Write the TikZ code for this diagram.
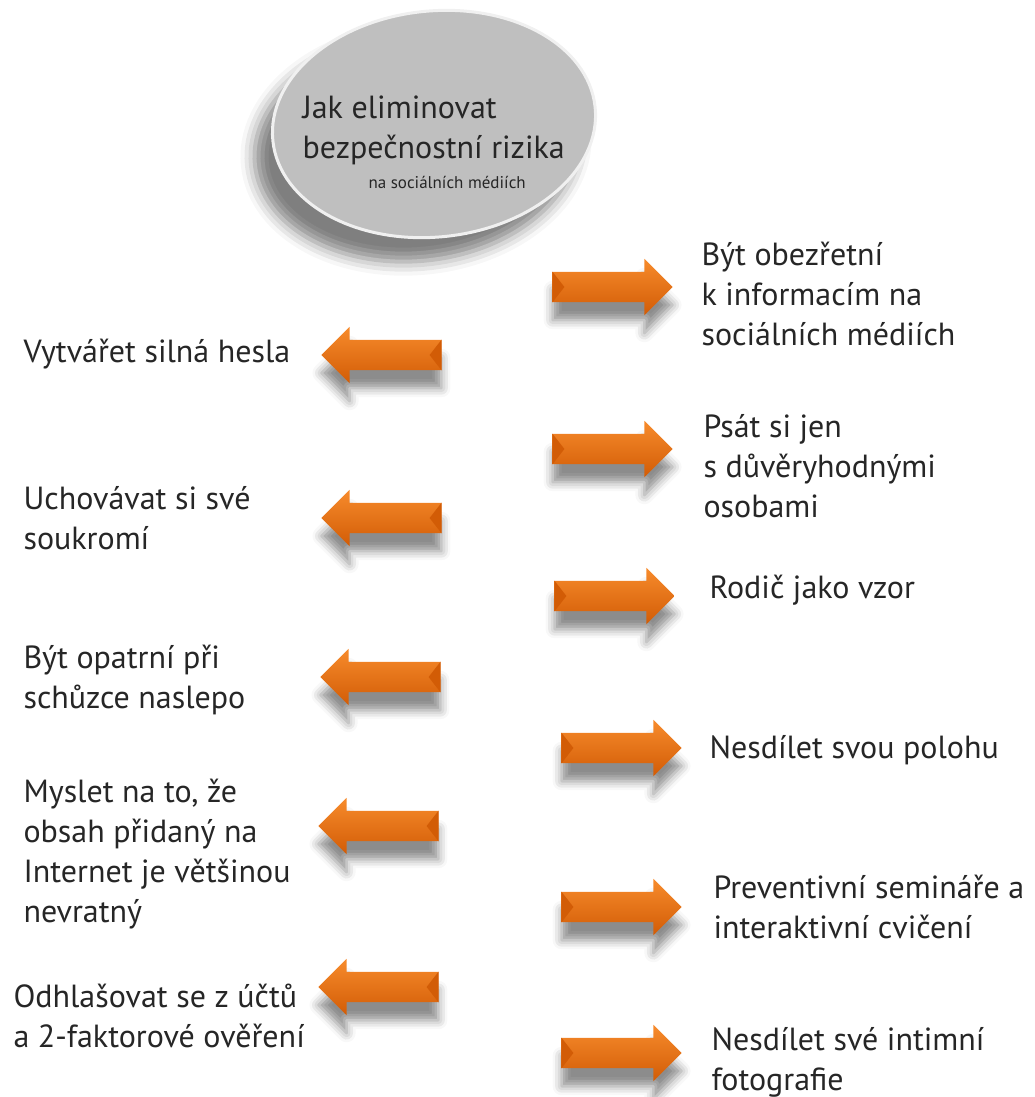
\documentclass[tikz,border=0pt]{standalone}
\usepackage{fontspec}
\setmainfont{PT Sans}
\usetikzlibrary{shapes.arrows,shapes.geometric,shadows.blur,calc}
\definecolor{arrowmid}{HTML}{F07510}
\definecolor{arrowlight}{HTML}{F78B2C}
\definecolor{arrowdark}{HTML}{D25C06}
\definecolor{textgray}{HTML}{262626}
\tikzset{
    orangearrow/.style={single arrow, single arrow head extend=13pt,
        single arrow tip angle=90, inner xsep=0pt, inner ysep=15pt,
        minimum height=120pt, top color=arrowlight, middle color=arrowmid,
        bottom color=arrowdark,
        blur shadow={shadow xshift=0pt, shadow yshift=-18pt,
            shadow opacity=45, shadow blur radius=9pt}},
    goleft/.style={orangearrow, shape border rotate=180},
    goright/.style={orangearrow},
    item/.style={anchor=west, align=left, text=textgray,
        font=\fontsize{32}{40}\selectfont},
}
\begin{document}
\begin{tikzpicture}[x=1pt, y=-1pt]
    \useasboundingbox (0,0) rectangle (1035,1097);
    %   Grey bubble with the title
    \node[ellipse, rotate=6, minimum width=324pt, minimum height=226pt,
        fill=gray!50, draw=gray!12, line width=3pt,
        blur shadow={shadow xshift=-18pt, shadow yshift=-24pt,
            shadow opacity=50, shadow blur radius=14pt}] (bubble) at (434,124) {};
    \node[item, anchor=base west] (title1) at (299,118) {Jak eliminovat};
    \node[item, anchor=base west] (title2) at (299,158) {bezpečnostní rizika};
    \node[item, anchor=base west, font=\fontsize{17}{20}\selectfont] (title3)
        at (365,188) {na sociálních médiích};
    %   Left column
    \node[goleft] (arrHesla) at (389,355) {};
    \node[item] (txtHesla) at (20,354) {Vytvářet silná hesla};
    \node[goleft] (arrSoukromi) at (389,518) {};
    \node[item] (txtSoukromi) at (20,518) {Uchovávat si své\\soukromí};
    \node[goleft] (arrSchuzka) at (388,677) {};
    \node[item] (txtSchuzka) at (20,680) {Být opatrní při\\schůzce naslepo};
    \node[goleft] (arrObsah) at (386,826) {};
    \node[item] (txtObsah) at (20,854) {Myslet na to, že\\obsah přidaný na\\Internet je většinou\\nevratný};
    \node[goleft] (arrUcty) at (386,987) {};
    \node[item] (txtUcty) at (10,1016) {Odhlašovat se z účtů\\a 2-faktorové ověření};
    %   Right column
    \node[goright] (arrMedia) at (605,287) {};
    \node[item] (txtMedia) at (698,294) {Být obezřetní\\k informacím na\\sociálních médiích};
    \node[goright] (arrOsoby) at (605,449) {};
    \node[item] (txtOsoby) at (700,466) {Psát si jen\\s důvěryhodnými\\osobami};
    \node[goright] (arrRodic) at (607,596) {};
    \node[item] (txtRodic) at (706,590) {Rodič jako vzor};
    \node[goright] (arrPoloha) at (614,748) {};
    \node[item] (txtPoloha) at (706,750) {Nesdílet svou polohu};
    \node[goright] (arrSeminar) at (614,907) {};
    \node[item] (txtSeminar) at (710,907) {Preventivní semináře a\\interaktivní cvičení};
    \node[goright] (arrFoto) at (614,1053) {};
    \node[item] (txtFoto) at (708,1062) {Nesdílet své intimní\\fotografie};
    %   Bevel at the tail of every arrow
    \foreach \a in {arrHesla,arrSoukromi,arrSchuzka,arrObsah,arrUcty,
        arrMedia,arrOsoby,arrRodic,arrPoloha,arrSeminar,arrFoto}
        \fill[arrowdark] (\a.before tail) -- ($(\a.tail)!12pt!(\a.tip)$)
            -- (\a.after tail) -- cycle;
\end{tikzpicture}
\end{document}
